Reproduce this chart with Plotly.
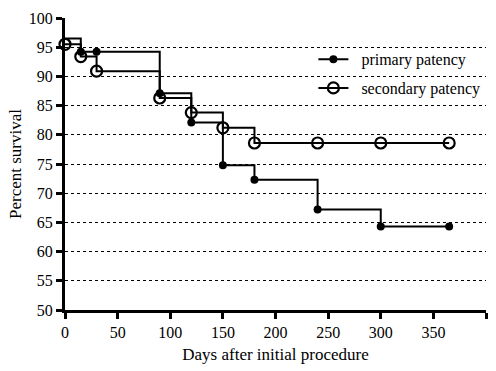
import plotly.graph_objects as go

days = [0, 15, 30, 90, 120, 150, 180, 240, 300, 365]
primary = [96.5, 94.2, 94.2, 87.1, 82.1, 74.8, 72.3, 67.2, 64.3, 64.3]
secondary = [95.5, 93.4, 90.9, 86.3, 83.8, 81.2, 78.6, 78.6, 78.6, 78.6]
x_ticks = [0, 50, 100, 150, 200, 250, 300, 350, 400]
y_ticks = [50, 55, 60, 65, 70, 75, 80, 85, 90, 95, 100]
series_names = ["primary patency", "secondary patency"]

FONT = "Liberation Serif"
PAD = "\u00a0\u00a0"

fig = go.Figure()
fig.add_trace(go.Scatter(
    x=days, y=primary, mode="lines",
    line=dict(shape="hv", color="black", width=2),
    legendgroup="a", cliponaxis=False, showlegend=False,
))
fig.add_trace(go.Scatter(
    x=days[1:], y=primary[1:], mode="markers",
    marker=dict(symbol="circle", size=8, color="black"),
    legendgroup="a", cliponaxis=False, showlegend=False,
))
fig.add_trace(go.Scatter(
    x=[None], y=[None], name=PAD + series_names[0], mode="lines+markers",
    line=dict(color="black", width=2),
    marker=dict(symbol="circle", size=8, color="black"),
    legendgroup="a",
))
fig.add_trace(go.Scatter(
    x=days, y=secondary, name=PAD + series_names[1], mode="lines+markers",
    line=dict(shape="hv", color="black", width=2),
    marker=dict(symbol="circle-open", size=11, color="black", line=dict(width=2.2)),
    legendgroup="b", cliponaxis=False,
))

fig.update_layout(
    width=496, height=371,
    margin=dict(l=65, r=10, t=13, b=55),
    paper_bgcolor="white", plot_bgcolor="white",
    font=dict(family=FONT, size=16, color="black"),
    showlegend=True,
    legend=dict(x=0.59, y=0.917, xanchor="left", yanchor="top",
                bgcolor="rgba(0,0,0,0)", font=dict(family=FONT, size=16),
                tracegroupgap=5, traceorder="grouped", itemwidth=30),
)
fig.update_xaxes(
    range=[0, 400], tickvals=x_ticks, showgrid=False, zeroline=False,
    showline=True, linecolor="black", linewidth=3,
    ticks="outside", ticklen=6, tickwidth=3, tickcolor="black",
    tickfont=dict(family=FONT, size=16),
    title=dict(text="Days after initial procedure", font=dict(family=FONT, size=17), standoff=8),
)
fig.update_yaxes(
    range=[50, 100], tickvals=y_ticks, showgrid=True, gridcolor="black",
    griddash="dot", gridwidth=1, zeroline=False,
    showline=True, linecolor="black", linewidth=3,
    ticks="outside", ticklen=6, tickwidth=3, tickcolor="black",
    tickfont=dict(family=FONT, size=16),
    title=dict(text="Percent survival", font=dict(family=FONT, size=17), standoff=3),
)

fig.write_html("out.html")
